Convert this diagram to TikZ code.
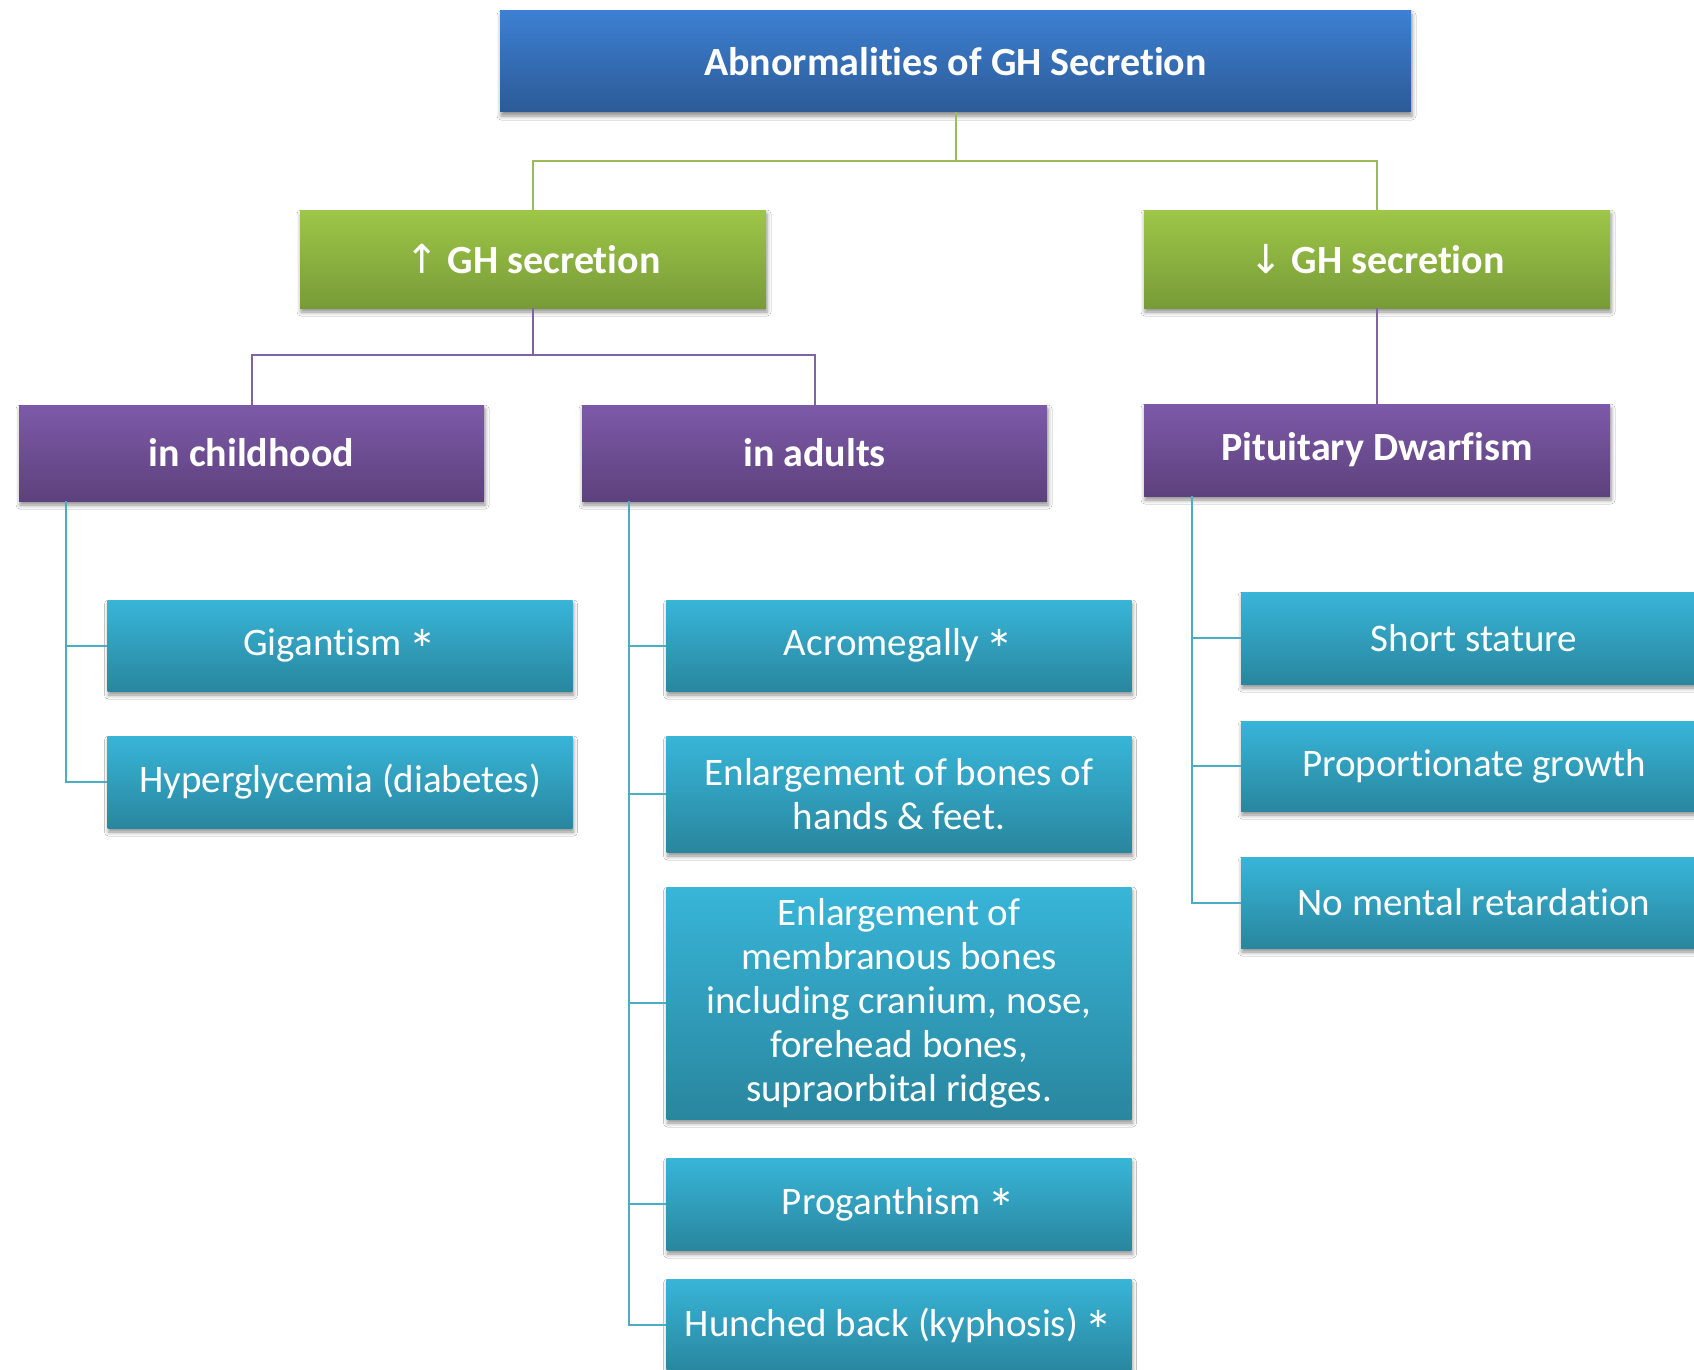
\documentclass[tikz,border=0pt]{standalone}
\usepackage{fontspec}
\setmainfont[Ligatures=NoCommon]{Carlito}
\newfontfamily\arrowfont{DejaVu Sans}
\usetikzlibrary{shadows.blur}
\newcommand\bigstar{\hspace{-0.05em}\raisebox{-0.36em}[0pt][0pt]{\scalebox{1.45}{*}}}
\definecolor{blueT}{HTML}{3D80D2}
\definecolor{blueB}{HTML}{2C5A96}
\definecolor{greenT}{HTML}{9EC647}
\definecolor{greenB}{HTML}{789B38}
\definecolor{purpT}{HTML}{7D5AA9}
\definecolor{purpB}{HTML}{5D417C}
\definecolor{cyanT}{HTML}{38B5D8}
\definecolor{cyanB}{HTML}{29869E}
\definecolor{gline}{HTML}{9BBB59}
\definecolor{pline}{HTML}{8064A2}
\definecolor{cline}{HTML}{4BACC6}
\tikzset{
  box/.style={rectangle, inner sep=0pt, text=white, align=center,
    blur shadow={shadow xshift=1pt, shadow yshift=-4pt, shadow blur radius=4pt, shadow opacity=45}},
  titlebox/.style={box, top color=blueT, bottom color=blueB, minimum width=911pt, minimum height=101pt,
    font=\fontsize{40}{46}\selectfont\bfseries},
  greenbox/.style={box, top color=greenT, bottom color=greenB, minimum width=466pt, minimum height=98pt,
    font=\fontsize{40}{46}\selectfont\bfseries},
  purpbox/.style={box, top color=purpT, bottom color=purpB, minimum width=465pt,
    font=\fontsize{40}{46}\selectfont\bfseries},
  cyanbox/.style={box, top color=cyanT, bottom color=cyanB, minimum width=465pt, minimum height=92pt,
    font=\fontsize{39}{44}\selectfont},
  gconn/.style={draw=gline, line width=2pt},
  pconn/.style={draw=pline, line width=2pt},
  cconn/.style={draw=cline, line width=2pt},
}
\begin{document}
\begin{tikzpicture}[x=1pt, y=-1pt]
\fill[white] (0,0) rectangle (1694,1370);
\useasboundingbox (0,0) rectangle (1694,1370);
\coordinate (j1) at (0,161);
\coordinate (j2) at (0,355);
\node[titlebox] (title) at (955.5,61.5) {Abnormalities of GH Secretion};
\node[greenbox] (gup) at (533,259) {{\arrowfont\mdseries ↑} GH secretion};
\node[greenbox] (gdown) at (1377,259) {{\arrowfont\mdseries ↓} GH secretion};
\node[purpbox, minimum height=96pt] (child) at (251.5,453) {in childhood};
\node[purpbox, minimum height=96pt] (adult) at (814.5,453) {in adults};
\node[purpbox, minimum height=92pt, minimum width=466pt] (dwarf) at (1377,450) {Pituitary Dwarfism};
\node[cyanbox, minimum height=91pt] (gig) at (340,645.5) {Gigantism \bigstar};
\node[cyanbox] (hyper) at (340,782) {Hyperglycemia (diabetes)};
\node[cyanbox, minimum height=91pt] (acro) at (899,645.5) {Acromegally \bigstar};
\node[cyanbox, minimum height=116pt] (hands) at (899,794) {Enlargement of bones of\\hands \& feet.};
\node[cyanbox, minimum height=232pt] (memb) at (899,1003) {Enlargement of\\membranous bones\\including cranium, nose,\\forehead bones,\\supraorbital ridges.};
\node[cyanbox] (prog) at (899,1204) {Proganthism \bigstar};
\node[cyanbox] (hunch) at (899,1325) {Hunched back (kyphosis) \bigstar};
\node[cyanbox, minimum width=466pt] (short) at (1474,638) {Short stature};
\node[cyanbox, minimum width=466pt, minimum height=90pt] (prop) at (1474,766) {Proportionate growth};
\node[cyanbox, minimum width=466pt, minimum height=91pt] (nomen) at (1474,902.5) {No mental retardation};
\draw[gconn] (title.south) -- (title.south |- j1) -| (gup.north);
\draw[gconn] (title.south |- j1) -| (gdown.north);
\draw[pconn] (gup.south) -- (gup.south |- j2) -| (child.north);
\draw[pconn] (gup.south |- j2) -| (adult.north);
\draw[pconn] (gdown.south) -- (dwarf.north);
\draw[cconn] ([xshift=47pt]child.south west) |- (hyper.west);
\draw[cconn] ([xshift=47pt]child.south west |- gig.west) -- (gig.west);
\draw[cconn] ([xshift=47pt]adult.south west) |- (hunch.west);
\draw[cconn] ([xshift=47pt]adult.south west |- acro.west) -- (acro.west);
\draw[cconn] ([xshift=47pt]adult.south west |- hands.west) -- (hands.west);
\draw[cconn] ([xshift=47pt]adult.south west |- memb.west) -- (memb.west);
\draw[cconn] ([xshift=47pt]adult.south west |- prog.west) -- (prog.west);
\draw[cconn] ([xshift=48pt]dwarf.south west) |- (nomen.west);
\draw[cconn] ([xshift=48pt]dwarf.south west |- short.west) -- (short.west);
\draw[cconn] ([xshift=48pt]dwarf.south west |- prop.west) -- (prop.west);
\end{tikzpicture}
\end{document}
